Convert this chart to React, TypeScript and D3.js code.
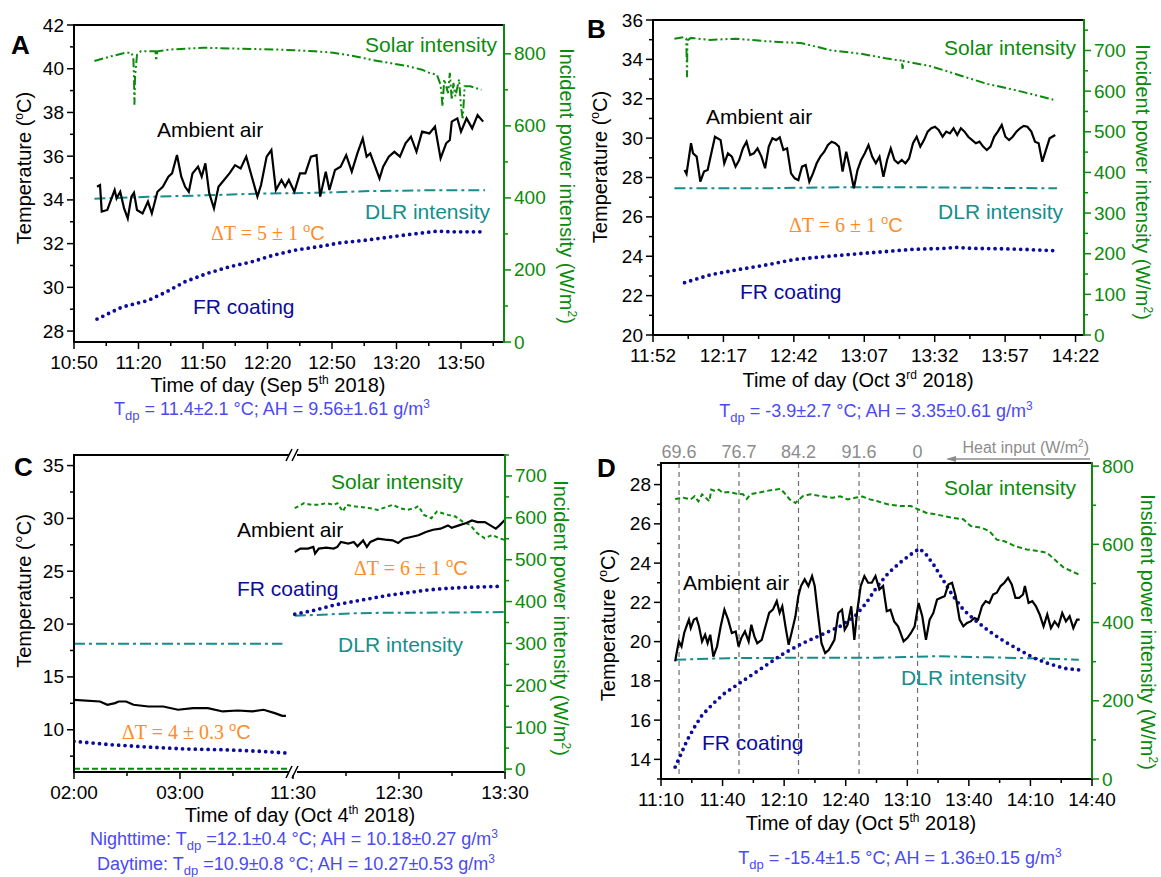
import React from 'react';
import * as d3 from 'd3';

type Pt = [number, number];

// ---------- Panel A: Sep 5th 2018, time in minutes after 10:50 ----------
const ambientA: Pt[] = [[10.7,34.6],[12.1,34.68],[12.9,33.47],[15.5,33.54],[17.2,34.0],[18.9,34.45],[19.8,34.07],[21.5,34.37],[23.3,33.61],[25.0,33.15],[26.7,34.15],[27.9,34.33],[29.3,33.54],[31.9,33.38],[34.4,33.92],[36.2,33.38],[38.8,34.37],[41.3,34.6],[43.9,35.06],[45.6,35.21],[47.9,36.05],[49.9,35.06],[51.7,34.6],[53.4,34.37],[55.1,35.21],[57.7,35.52],[59.4,35.06],[61.1,35.67],[62.9,34.3],[65.1,33.61],[67.2,34.6],[69.8,34.91],[72.3,35.21],[74.9,35.59],[77.5,35.44],[80.1,35.98],[82.7,35.06],[85.3,34.15],[87.0,34.68],[89.6,35.98],[91.8,36.28],[93.9,34.45],[96.5,34.91],[98.2,34.6],[99.9,34.91],[102.5,34.37],[105.1,35.21],[107.6,35.21],[110.2,35.98],[112.8,36.05],[114.5,34.15],[117.1,35.29],[118.8,34.45],[121.4,35.37],[124.0,35.52],[126.6,36.05],[129.2,35.29],[131.8,36.13],[134.3,36.81],[136.1,35.98],[137.8,36.13],[139.5,35.67],[142.1,34.98],[143.8,35.52],[146.4,35.98],[149.0,36.2],[151.6,35.98],[154.2,36.59],[156.7,36.89],[159.3,36.2],[161.9,37.12],[165.3,37.04],[167.9,37.35],[170.5,35.9],[173.1,36.59],[174.8,36.74],[175.7,37.58],[178.3,37.73],[180.0,37.12],[182.6,37.73],[185.2,37.27],[187.7,37.88],[190.3,37.58]];
const frA: Pt[] = [[10.7,28.55],[22.4,29.1],[34.4,29.4],[43.1,29.8],[51.7,30.26],[62.0,30.64],[72.3,30.94],[82.7,31.17],[93.0,31.48],[103.3,31.71],[113.7,31.86],[124.0,32.04],[136.1,32.16],[148.1,32.32],[160.2,32.47],[168.8,32.57],[175.7,32.54],[189.5,32.54]];
const solarA: Pt[] = [[9.5,780],[17.2,793],[24.1,803],[26.7,803],[27.6,789],[27.9,738],[28.1,659],[28.4,738],[29.3,797],[31.0,807],[37.9,807],[38.2,781],[38.8,807],[44.8,812],[60.3,817],[77.5,814],[94.7,812],[112.0,807],[120.6,803],[129.2,795],[137.8,784],[146.4,775],[155.0,766],[161.9,756],[165.3,747],[168.8,742],[170.5,714],[171.4,654],[172.2,729],[174.0,691],[174.8,747],[175.7,672],[176.5,719],[177.4,682],[179.1,729],[180.0,654],[180.8,617],[181.7,710],[184.3,710],[189.5,700]];
const dlrA: Pt[] = [[9.5,398],[34.4,403],[60.3,407],[86.1,412],[112.0,414],[137.8,419],[163.6,421],[191.2,421]];

// ---------- Panel B: Oct 3rd 2018, minutes after 11:52 ----------
const ambientB: Pt[] = [[11.2,28.38],[11.9,28.18],[13.5,29.74],[14.2,29.23],[15.5,29.06],[16.8,27.79],[18.1,28.3],[19.4,28.38],[20.7,29.23],[22.0,30.07],[24.0,29.9],[25.3,28.72],[26.6,29.23],[28.0,29.06],[29.3,28.55],[30.6,28.89],[31.9,29.48],[33.2,29.82],[34.5,29.14],[35.8,29.23],[37.1,29.48],[38.5,29.06],[39.8,28.47],[41.1,29.57],[42.4,29.99],[43.7,29.9],[45.0,30.04],[46.3,29.4],[47.6,29.48],[49.0,28.21],[50.3,27.96],[51.6,27.87],[52.9,28.55],[54.2,28.63],[55.5,27.79],[56.8,28.21],[58.1,28.72],[59.4,29.06],[60.8,29.31],[62.1,29.65],[63.4,29.82],[64.7,29.74],[66.0,29.57],[67.3,28.3],[68.6,29.31],[69.9,28.47],[71.3,27.45],[72.6,28.38],[73.9,28.89],[75.2,29.23],[76.5,29.65],[77.8,29.06],[79.1,28.72],[80.4,29.06],[81.8,28.04],[83.1,28.89],[84.4,29.48],[85.7,28.89],[87.0,28.72],[88.3,28.89],[89.6,28.72],[90.9,28.97],[92.3,29.74],[93.6,30.07],[94.9,29.57],[96.2,29.9],[97.5,30.33],[98.8,30.5],[100.1,30.58],[101.4,30.41],[102.8,30.07],[104.1,30.33],[105.4,30.24],[106.7,30.5],[108.0,30.16],[109.3,30.5],[110.6,30.33],[111.9,30.07],[113.3,29.9],[114.6,29.74],[115.9,29.82],[117.2,29.57],[118.5,29.4],[119.8,29.57],[121.1,30.07],[122.4,30.33],[123.8,30.67],[125.1,30.07],[126.4,29.9],[127.7,30.07],[129.0,30.33],[130.3,30.5],[131.6,30.62],[132.9,30.58],[134.3,30.33],[135.6,29.82],[136.9,29.74],[138.2,28.8],[139.5,29.4],[140.8,29.99],[142.8,30.16]];
const frB: Pt[] = [[11.2,22.66],[20.1,23.05],[29.3,23.3],[39.8,23.55],[50.3,23.84],[60.8,23.98],[71.3,24.11],[81.8,24.23],[92.3,24.35],[102.8,24.4],[108.0,24.45],[113.3,24.4],[123.8,24.38],[131.6,24.35],[142.8,24.28]];
const solarB: Pt[] = [[7.6,729],[10.9,733],[11.8,729],[12.1,634],[12.2,725],[13.5,731],[20.1,726],[29.3,729],[39.8,723],[52.9,718],[63.4,700],[73.9,692],[83.1,680],[88.3,675],[88.6,655],[89.0,674],[98.8,661],[109.3,638],[118.5,618],[129.0,602],[142.1,579]];
const dlrB: Pt[] = [[7.6,361],[39.8,361],[66.0,363.5],[92.3,363.5],[118.5,362],[143.4,361]];

// ---------- Panel C: Oct 4th 2018, night = minutes after 02:00, day = minutes after 11:30 ----------
const ambientCNight: Pt[] = [[0,12.83],[14.7,12.67],[18.9,12.36],[23.2,12.52],[25.3,12.67],[29.5,12.67],[33.7,12.36],[42.1,12.2],[50.5,12.2],[58.9,11.89],[67.4,12.04],[75.8,12.04],[84.2,11.73],[92.6,11.82],[101,11.73],[107.4,11.89],[113.7,11.57],[117.9,11.32],[120,11.32]];
const frCNight: Pt[] = [[0,8.9],[21.1,8.58],[42.1,8.36],[63.2,8.18],[84.2,8.11],[105.3,7.96],[120,7.8]];
const dlrCNight: Pt[] = [[0,299],[118,299]];
const solarCNight: Pt[] = [[0,1],[121,1]];
const ambientCDay: Pt[] = [[1.0,26.82],[4.2,27.14],[8.4,27.14],[11.5,27.3],[12.5,26.67],[14.6,27.14],[18.8,27.23],[23.0,27.14],[25.1,27.3],[27.1,27.77],[31.3,27.61],[34.4,27.77],[36.5,27.36],[39.7,27.92],[41.8,27.3],[43.8,27.77],[48.0,28.08],[52.2,27.99],[56.4,27.92],[59.5,27.67],[62.6,28.08],[66.8,28.24],[71.0,28.4],[75.2,28.71],[79.3,28.93],[83.5,29.03],[87.7,29.34],[89.8,29.12],[93.9,29.34],[98.1,29.56],[101.3,29.81],[104.4,29.65],[108.6,29.65],[111.7,29.34],[114.8,29.03],[116.9,29.34],[120,29.87]];
const frCDay: Pt[] = [[1.0,20.94],[12.5,21.32],[23.0,21.79],[33.4,22.11],[43.8,22.42],[54.3,22.74],[64.7,22.96],[75.2,23.21],[85.6,23.36],[96.0,23.46],[106.5,23.52],[119.0,23.58]];
const dlrCDay: Pt[] = [[1.0,366],[12.5,368],[33.4,372],[54.3,373.5],[75.2,373.5],[96.0,374],[120,375]];
const solarCDay: Pt[] = [[1.0,623],[6.3,635],[10.4,631],[14.6,631],[18.8,635],[23.0,631],[25.1,635],[28.2,615],[30.3,631],[35.5,627],[43.8,623],[48.0,619],[56.4,631],[60.5,623],[64.7,619],[68.9,623],[71.0,628],[74.1,607],[78.3,599],[81.4,615],[87.7,607],[91.9,603],[96.0,591],[100.2,583],[104.4,563],[108.6,551],[112.7,559],[116.9,551],[120,547]];

// ---------- Panel D: Oct 5th 2018, minutes after 11:10 ----------
const ambientD: Pt[] = [[6.9,18.99],[7.6,19.41],[8.7,20.01],[10.0,19.75],[11.3,20.44],[12.7,20.86],[13.6,21.12],[14.5,20.69],[16.0,21.12],[17.3,21.2],[18.5,20.78],[20.0,20.01],[21.5,20.35],[22.7,19.92],[24.0,20.35],[25.5,19.24],[27.3,19.75],[29.1,20.78],[30.9,21.63],[32.7,21.12],[34.5,20.44],[36.4,20.52],[37.8,19.75],[39.1,20.18],[40.9,20.52],[42.7,20.01],[44.0,20.86],[45.5,20.27],[46.9,19.92],[49.1,20.09],[50.9,20.78],[52.7,21.46],[54.5,21.63],[56.4,22.06],[57.8,21.46],[59.1,21.8],[60.9,20.61],[62.2,19.84],[63.6,20.44],[65.5,21.29],[66.9,22.31],[68.2,22.83],[70.0,23.17],[71.8,22.83],[73.6,23.34],[74.9,22.83],[76.4,21.46],[78.2,19.92],[80.0,19.41],[81.8,19.58],[84.5,20.09],[86.4,21.46],[88.2,21.63],[89.5,20.61],[90.9,20.86],[92.7,21.8],[94.2,20.09],[95.5,21.46],[97.3,22.83],[99.1,23.34],[100.9,23.0],[102.7,23.0],[104.5,23.34],[106.4,22.66],[108.2,22.83],[110.0,21.55],[111.8,21.63],[113.6,21.03],[115.5,20.78],[116.7,20.44],[118.2,20.01],[120.0,20.18],[121.8,20.44],[123.6,20.78],[125.5,21.97],[127.3,21.29],[129.1,20.09],[130.9,21.12],[132.7,21.46],[134.5,22.14],[136.4,22.23],[138.2,22.31],[140.0,22.91],[141.8,23.0],[143.6,22.31],[145.5,21.12],[147.3,20.78],[149.1,20.95],[150.9,21.03],[152.7,21.2],[154.5,21.12],[156.4,21.8],[158.2,22.06],[160.0,21.97],[161.8,22.4],[163.6,22.49],[165.5,22.83],[167.3,23.0],[169.1,23.25],[170.9,22.91],[172.7,22.23],[174.5,22.23],[176.4,22.4],[177.3,22.83],[179.1,21.97],[180.9,22.06],[182.7,21.8],[184.5,21.38],[186.4,20.78],[188.2,21.38],[190.0,20.69],[191.8,21.03],[193.6,20.78],[195.5,21.46],[197.3,21.03],[199.1,21.29],[200.9,20.69],[202.7,21.12],[204.0,21.12]];
const frD: Pt[] = [[6.9,13.61],[9.1,14.12],[12.7,14.97],[16.4,15.66],[20.0,16.25],[25.5,16.85],[30.9,17.36],[38.2,17.88],[45.5,18.39],[52.7,18.9],[60.0,19.41],[69.1,19.92],[78.2,20.35],[87.3,20.78],[94.5,21.29],[100.0,21.97],[105.5,22.83],[110.9,23.51],[116.4,24.02],[121.8,24.45],[126.0,24.74],[129.1,24.45],[132.7,23.94],[137.3,23.17],[141.8,22.4],[147.3,21.63],[152.7,21.12],[160.0,20.52],[167.3,20.01],[174.5,19.58],[181.8,19.16],[189.1,18.87],[196.4,18.64],[203.6,18.56]];
const solarD: Pt[] = [[6.9,716],[10.9,719],[14.5,715],[16.4,723],[18.2,710],[20.0,728],[21.8,719],[23.6,710],[24.5,740],[26.4,736],[28.2,740],[30.0,732],[32.7,734],[36.4,730],[40.0,728],[41.8,716],[43.6,728],[47.3,732],[50.9,736],[54.5,739],[58.2,742],[60.0,732],[62.7,715],[65.5,706],[67.3,715],[69.1,723],[72.7,728],[78.2,723],[83.6,719],[87.3,723],[90.9,715],[94.5,719],[98.2,722],[101.8,715],[105.5,710],[110.9,702],[116.4,698],[121.8,698],[125.5,689],[129.1,681],[134.5,676],[141.8,668],[147.3,664],[150.9,647],[156.4,642],[160.0,634],[163.6,612],[167.3,608],[172.7,595],[178.2,587],[183.6,583],[188.2,578],[191.8,561],[196.4,540],[203.6,523]];
const dlrD: Pt[] = [[6.9,305],[32.7,309],[69.1,310],[105.5,310],[134.5,314],[160.0,311],[187.3,308],[203.6,305]];
const heatTimesD = [8.8, 38, 67, 96.5, 125];
const heatLabelsD = ['69.6', '76.7', '84.2', '91.6', '0'];

const SANS = '"Liberation Sans", Arial, Helvetica, sans-serif';
const SERIF = '"Liberation Serif", "Times New Roman", serif';
const GREEN = '#0b8a0b';
const TEAL = '#168d8d';
const NAVY = '#0c0c9c';
const ORANGE = '#ff8c26';
const BLUE = '#4a4af2';
const GRAY = '#8c8c8c';

type Seg = { start: number; span: number; r: [number, number]; major: number[]; minor: number[] };
type Series = { seg: number; axis: 'L' | 'R'; data: Pt[]; kind: 'amb' | 'fr' | 'solar' | 'dlr'; dash?: string };
type Label = { t: React.ReactNode; x: number; y: number; anchor?: 'start' | 'middle' | 'end'; fill: string; size?: number; family?: string; bold?: boolean };

interface PanelCfg {
  id: string;
  box: { x0: number; x1: number; y0: number; y1: number };
  segs: Seg[];
  yDom: [number, number]; yMajor: number[]; yMinor: number[];
  y2Dom: [number, number]; y2Major: number[]; y2Minor: number[];
  series: Series[];
  labels: Label[];
  yTitle: React.ReactNode; yTitlePos: [number, number];
  y2Title: React.ReactNode; y2TitlePos: [number, number];
  breakX?: number;
}

const clock = (m: number) => {
  const h = Math.floor(m / 60);
  const mm = Math.round(m - h * 60);
  return `${String(h).padStart(2, '0')}:${String(mm).padStart(2, '0')}`;
};

const styleOf = (s: Series) => {
  if (s.kind === 'amb') return { stroke: '#000', strokeWidth: 2.2 };
  if (s.kind === 'fr') return { stroke: NAVY, strokeWidth: 3.8, strokeDasharray: '0 6.4', strokeLinecap: 'round' as const };
  if (s.kind === 'dlr') return { stroke: TEAL, strokeWidth: 2, strokeDasharray: '11 4 3 4' };
  return { stroke: GREEN, strokeWidth: 2, strokeDasharray: s.dash };
};

const degC = (
  <>
    (<tspan dy={-8} fontSize={12}>o</tspan><tspan dy={8}>C)</tspan>
  </>
);
const wm2 = (
  <>
    (W/m<tspan dy={-8} fontSize={12}>2</tspan><tspan dy={8}>)</tspan>
  </>
);

function Panel({ cfg }: { cfg: PanelCfg }) {
  const { x0, x1, y0, y1 } = cfg.box;
  const yL = d3.scaleLinear().domain(cfg.yDom).range([y1, y0]);
  const yR = d3.scaleLinear().domain(cfg.y2Dom).range([y1, y0]);
  const xs = cfg.segs.map((s) => d3.scaleLinear().domain([0, s.span]).range(s.r));
  const clipId = `clip-${cfg.id}`;
  return (
    <g>
      <defs>
        <clipPath id={clipId}>
          <rect x={x0} y={y0} width={x1 - x0} height={y1 - y0} />
        </clipPath>
      </defs>
      <g clipPath={`url(#${clipId})`}>
        {cfg.series.map((s, i) => {
          const x = xs[s.seg];
          const y = s.axis === 'R' ? yR : yL;
          const line = d3.line<Pt>().x((d) => x(d[0])).y((d) => y(d[1]));
          return <path key={i} d={line(s.data) || ''} fill="none" {...styleOf(s)} />;
        })}
      </g>

      {/* frame */}
      <line x1={x0 - 1} x2={x1 + 1} y1={y0} y2={y0} stroke="#000" strokeWidth={2} />
      <line x1={x0 - 1} x2={x1 + 1} y1={y1} y2={y1} stroke="#000" strokeWidth={2} />
      <line x1={x0} x2={x0} y1={y0} y2={y1 + 1} stroke="#000" strokeWidth={2} />
      <line x1={x1} x2={x1} y1={y0 - 1} y2={y1 + 1} stroke={GREEN} strokeWidth={2} />

      {/* left axis */}
      {cfg.yMinor.map((v) => (
        <line key={`lm${v}`} x1={x0 - 4} x2={x0} y1={yL(v)} y2={yL(v)} stroke="#000" strokeWidth={1.5} />
      ))}
      {cfg.yMajor.map((v) => (
        <g key={`lM${v}`}>
          <line x1={x0 - 7} x2={x0} y1={yL(v)} y2={yL(v)} stroke="#000" strokeWidth={1.5} />
          <text x={x0 - 10} y={yL(v) + 6.5} textAnchor="end" fontSize={19}>{v}</text>
        </g>
      ))}

      {/* right axis */}
      {cfg.y2Minor.map((v) => (
        <line key={`rm${v}`} x1={x1} x2={x1 + 4} y1={yR(v)} y2={yR(v)} stroke={GREEN} strokeWidth={1.5} />
      ))}
      {cfg.y2Major.map((v) => (
        <g key={`rM${v}`}>
          <line x1={x1} x2={x1 + 7} y1={yR(v)} y2={yR(v)} stroke={GREEN} strokeWidth={1.5} />
          <text x={x1 + 10} y={yR(v) + 6.5} fill={GREEN} fontSize={19}>{v}</text>
        </g>
      ))}

      {/* bottom axis */}
      {cfg.segs.map((s, si) => (
        <g key={`seg${si}`}>
          {s.minor.map((v) => (
            <line key={`bm${v}`} x1={xs[si](v)} x2={xs[si](v)} y1={y1} y2={y1 + 4} stroke="#000" strokeWidth={1.5} />
          ))}
          {s.major.map((v) => (
            <g key={`bM${v}`}>
              <line x1={xs[si](v)} x2={xs[si](v)} y1={y1} y2={y1 + 7} stroke="#000" strokeWidth={1.5} />
              <text x={xs[si](v)} y={y1 + 27} textAnchor="middle" fontSize={19}>{clock(s.start + v)}</text>
            </g>
          ))}
        </g>
      ))}

      {cfg.breakX !== undefined && (
        <g stroke="#000" strokeWidth={1.6}>
          <rect x={cfg.breakX - 4} y={y0 - 3} width={8} height={6} fill="#fff" stroke="none" />
          <rect x={cfg.breakX - 4} y={y1 - 3} width={8} height={6} fill="#fff" stroke="none" />
          {[y0, y1].map((yy) => (
            <g key={yy}>
              <line x1={cfg.breakX! - 7} x2={cfg.breakX! - 1} y1={yy + 6} y2={yy - 6} />
              <line x1={cfg.breakX! - 1} x2={cfg.breakX! + 5} y1={yy + 6} y2={yy - 6} />
            </g>
          ))}
        </g>
      )}

      {/* axis titles */}
      <text transform={`translate(${cfg.yTitlePos[0]},${cfg.yTitlePos[1]}) rotate(-90)`} textAnchor="middle" fontSize={20}>
        {cfg.yTitle}
      </text>
      <text transform={`translate(${cfg.y2TitlePos[0]},${cfg.y2TitlePos[1]}) rotate(90)`} textAnchor="middle" fontSize={20} fill={GREEN}>
        {cfg.y2Title}
      </text>

      {cfg.labels.map((l, i) => (
        <text
          key={i}
          x={l.x}
          y={l.y}
          textAnchor={l.anchor || 'start'}
          fill={l.fill}
          fontSize={l.size || 21}
          fontFamily={l.family || SANS}
          fontWeight={l.bold ? 'bold' : 'normal'}
        >
          {l.t}
        </text>
      ))}
    </g>
  );
}

const dT = (v: string) => (
  <>
    {`ΔT = ${v} `}
    <tspan fontFamily={SANS} dy={-8} fontSize={13}>o</tspan>
    <tspan fontFamily={SANS} dy={8}>C</tspan>
  </>
);

const tdp = (pre: string, rest: string) => (
  <>
    {pre}T<tspan dy={5} fontSize={13}>dp</tspan>
    <tspan dy={-5}>{rest}</tspan>
    <tspan dy={-7} fontSize={12}>3</tspan>
  </>
);

const xTitle = (pre: string, sup: string, post: string) => (
  <>
    {pre}
    <tspan dy={-8} fontSize={12}>{sup}</tspan>
    <tspan dy={8}>{post}</tspan>
  </>
);

const range = (a: number, b: number, s: number) => d3.range(a, b + s / 2, s);

const panelA: PanelCfg = {
  id: 'A',
  box: { x0: 74, x1: 504, y0: 25, y1: 342 },
  segs: [{ start: 650, span: 200, r: [74, 504], major: range(0, 180, 30), minor: range(15, 195, 30) }],
  yDom: [27.5, 42], yMajor: range(28, 42, 2), yMinor: range(29, 41, 2),
  y2Dom: [0, 880], y2Major: range(0, 800, 200), y2Minor: range(100, 700, 200),
  series: [
    { seg: 0, axis: 'R', data: solarA, kind: 'solar', dash: '9 3 2 3 2 3' },
    { seg: 0, axis: 'R', data: dlrA, kind: 'dlr' },
    { seg: 0, axis: 'L', data: frA, kind: 'fr' },
    { seg: 0, axis: 'L', data: ambientA, kind: 'amb' },
  ],
  labels: [
    { t: 'A', x: 11, y: 54, fill: '#000', size: 26, bold: true },
    { t: 'Solar intensity', x: 497, y: 52, anchor: 'end', fill: GREEN },
    { t: 'Ambient air', x: 157, y: 137, fill: '#000' },
    { t: 'DLR intensity', x: 490, y: 219, anchor: 'end', fill: TEAL },
    { t: dT('5 ± 1'), x: 211, y: 240, fill: ORANGE, family: SERIF, size: 20 },
    { t: 'FR coating', x: 193, y: 314, fill: NAVY },
    { t: xTitle('Time of day (Sep 5', 'th', ' 2018)'), x: 268, y: 392, anchor: 'middle', fill: '#000', size: 20 },
    { t: tdp('', ' = 11.4±2.1 °C; AH = 9.56±1.61 g/m'), x: 272, y: 415, anchor: 'middle', fill: BLUE, size: 18 },
  ],
  yTitle: <>Temperature {degC}</>, yTitlePos: [31, 168],
  y2Title: <>Incident power intensity {wm2}</>, y2TitlePos: [560, 186],
};

const panelB: PanelCfg = {
  id: 'B',
  box: { x0: 653, x1: 1084, y0: 20, y1: 335 },
  segs: [{ start: 712, span: 153, r: [653, 1084], major: range(0, 150, 25), minor: range(12.5, 137.5, 25) }],
  yDom: [20, 36], yMajor: range(20, 36, 2), yMinor: range(21, 35, 2),
  y2Dom: [0, 775], y2Major: range(0, 700, 100), y2Minor: range(50, 750, 100),
  series: [
    { seg: 0, axis: 'R', data: solarB, kind: 'solar', dash: '9 3 2 3 2 3' },
    { seg: 0, axis: 'R', data: dlrB, kind: 'dlr' },
    { seg: 0, axis: 'L', data: frB, kind: 'fr' },
    { seg: 0, axis: 'L', data: ambientB, kind: 'amb' },
  ],
  labels: [
    { t: 'B', x: 587, y: 38, fill: '#000', size: 26, bold: true },
    { t: 'Solar intensity', x: 1076, y: 55, anchor: 'end', fill: GREEN },
    { t: 'Ambient air', x: 706, y: 124, fill: '#000' },
    { t: 'DLR intensity', x: 1063, y: 219, anchor: 'end', fill: TEAL },
    { t: dT('6 ± 1'), x: 789, y: 232, fill: ORANGE, family: SERIF, size: 20 },
    { t: 'FR coating', x: 740, y: 299, fill: NAVY },
    { t: xTitle('Time of day (Oct 3', 'rd', ' 2018)'), x: 858, y: 387, anchor: 'middle', fill: '#000', size: 20 },
    { t: tdp('', ' = -3.9±2.7 °C; AH = 3.35±0.61 g/m'), x: 876, y: 417, anchor: 'middle', fill: BLUE, size: 18 },
  ],
  yTitle: <>Temperature {degC}</>, yTitlePos: [607, 167],
  y2Title: <>Incident power intensity {wm2}</>, y2TitlePos: [1136, 182],
};

const panelC: PanelCfg = {
  id: 'C',
  box: { x0: 74, x1: 505, y0: 455, y1: 772 },
  segs: [
    { start: 120, span: 124, r: [74, 293], major: [0, 60], minor: [30, 90] },
    { start: 690, span: 120, r: [293, 505], major: [0, 60, 120], minor: [30, 90] },
  ],
  yDom: [6, 36], yMajor: range(10, 35, 5), yMinor: range(7.5, 32.5, 5),
  y2Dom: [-7, 750], y2Major: range(0, 700, 100), y2Minor: range(50, 750, 100),
  series: [
    { seg: 0, axis: 'R', data: solarCNight, kind: 'solar', dash: '6 3' },
    { seg: 0, axis: 'R', data: dlrCNight, kind: 'dlr' },
    { seg: 0, axis: 'L', data: frCNight, kind: 'fr' },
    { seg: 0, axis: 'L', data: ambientCNight, kind: 'amb' },
    { seg: 1, axis: 'R', data: solarCDay, kind: 'solar', dash: '4 3' },
    { seg: 1, axis: 'R', data: dlrCDay, kind: 'dlr' },
    { seg: 1, axis: 'L', data: frCDay, kind: 'fr' },
    { seg: 1, axis: 'L', data: ambientCDay, kind: 'amb' },
  ],
  labels: [
    { t: 'C', x: 14, y: 476, fill: '#000', size: 26, bold: true },
    { t: 'Solar intensity', x: 463, y: 489, anchor: 'end', fill: GREEN },
    { t: 'Ambient air', x: 237, y: 537, fill: '#000' },
    { t: dT('6 ± 1'), x: 354, y: 575, fill: ORANGE, family: SERIF, size: 20 },
    { t: 'FR coating', x: 237, y: 596, fill: NAVY },
    { t: 'DLR intensity', x: 463, y: 652, anchor: 'end', fill: TEAL },
    { t: dT('4 ± 0.3'), x: 122, y: 739, fill: ORANGE, family: SERIF, size: 20 },
    { t: xTitle('Time of day (Oct  4', 'th', ' 2018)'), x: 300, y: 822, anchor: 'middle', fill: '#000', size: 20 },
    { t: tdp('Nighttime:  ', ' =12.1±0.4 °C; AH = 10.18±0.27 g/m'), x: 294, y: 845, anchor: 'middle', fill: BLUE, size: 18 },
    { t: tdp('Daytime: ', ' =10.9±0.8 °C; AH = 10.27±0.53 g/m'), x: 296, y: 870, anchor: 'middle', fill: BLUE, size: 18 },
  ],
  yTitle: 'Temperature (°C)', yTitlePos: [31, 591],
  y2Title: <>Incident power intensity {wm2}</>, y2TitlePos: [554, 618],
  breakX: 293,
};

const panelD: PanelCfg = {
  id: 'D',
  box: { x0: 661, x1: 1092, y0: 463, y1: 779 },
  segs: [{ start: 670, span: 210, r: [661, 1092], major: range(0, 210, 30), minor: range(15, 195, 30) }],
  yDom: [13, 29.1], yMajor: range(14, 28, 2), yMinor: range(13, 29, 2),
  y2Dom: [0, 808], y2Major: range(0, 800, 200), y2Minor: range(100, 700, 200),
  series: [
    { seg: 0, axis: 'R', data: solarD, kind: 'solar', dash: '5 3' },
    { seg: 0, axis: 'R', data: dlrD, kind: 'dlr' },
    { seg: 0, axis: 'L', data: frD, kind: 'fr' },
    { seg: 0, axis: 'L', data: ambientD, kind: 'amb' },
  ],
  labels: [
    { t: 'D', x: 597, y: 477, fill: '#000', size: 26, bold: true },
    { t: 'Solar intensity', x: 1076, y: 495, anchor: 'end', fill: GREEN },
    { t: 'Ambient air', x: 683, y: 590, fill: '#000' },
    { t: 'DLR intensity', x: 1026, y: 685, anchor: 'end', fill: TEAL },
    { t: 'FR coating', x: 702, y: 750, fill: NAVY },
    { t: xTitle('Time of day (Oct 5', 'th', ' 2018)'), x: 861, y: 830, anchor: 'middle', fill: '#000', size: 20 },
    { t: tdp('', ' = -15.4±1.5 °C; AH = 1.36±0.15 g/m'), x: 900, y: 864, anchor: 'middle', fill: BLUE, size: 18 },
  ],
  yTitle: <>Temperature {degC}</>, yTitlePos: [615, 625],
  y2Title: <>Insident power intensity {wm2}</>, y2TitlePos: [1141, 632],
};

function HeatInput() {
  const { x0, x1, y0, y1 } = panelD.box;
  const x = d3.scaleLinear().domain([0, 210]).range([x0, x1]);
  return (
    <g>
      {heatTimesD.map((t, i) => (
        <g key={t}>
          <line x1={x(t)} x2={x(t)} y1={y0} y2={y1} stroke="#6e6e6e" strokeWidth={1.2} strokeDasharray="5 4" />
          <text x={x(t)} y={458} textAnchor="middle" fill={GRAY} fontSize={18}>{heatLabelsD[i]}</text>
        </g>
      ))}
      <text x={1089} y={453} textAnchor="end" fill={GRAY} fontSize={16}>
        Heat input (W/m<tspan dy={-6} fontSize={10}>2</tspan><tspan dy={6}>)</tspan>
      </text>
      <line x1={948} x2={1090} y1={459} y2={459} stroke={GRAY} strokeWidth={1.3} />
      <path d="M946,459 L956,456 L956,462 Z" fill={GRAY} />
    </g>
  );
}

export default function App() {
  return (
    <svg
      width={1161}
      height={877}
      style={{ position: 'absolute', left: 0, top: 0, background: '#fff' }}
      fontFamily={SANS}
    >
      <rect width={1161} height={877} fill="#fff" />
      <HeatInput />
      <Panel cfg={panelA} />
      <Panel cfg={panelB} />
      <Panel cfg={panelC} />
      <Panel cfg={panelD} />
    </svg>
  );
}
